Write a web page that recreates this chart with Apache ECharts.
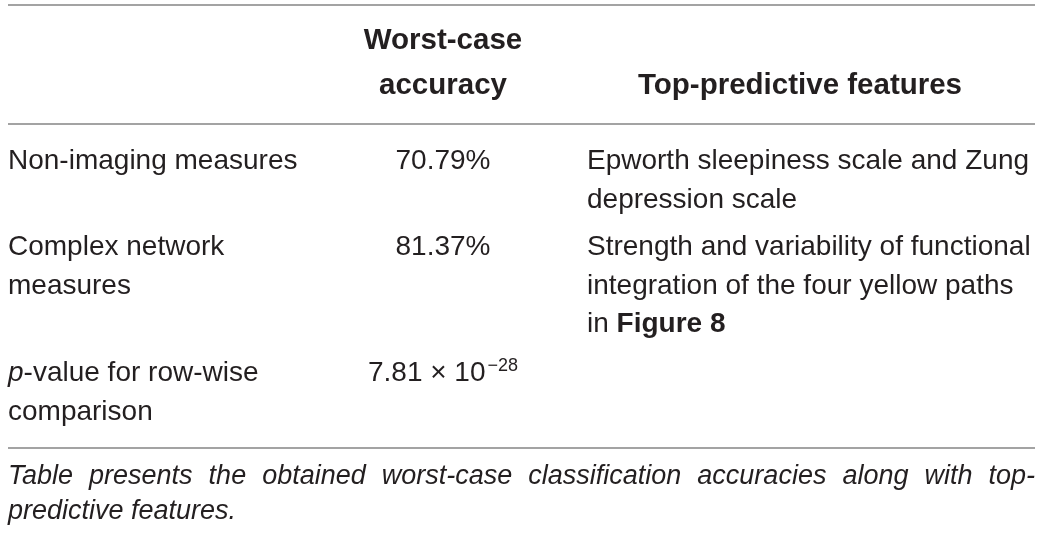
<!DOCTYPE html>
<html>
<head>
<meta charset="utf-8">
<script src="https://cdn.jsdelivr.net/npm/echarts@6/dist/echarts.min.js"></script>
<style>
  html, body { margin: 0; padding: 0; background: #fff; }
  #main { width: 1041px; height: 534px; }
</style>
</head>
<body>
<div id="main"></div>
<script>
// table content
const headerCols = [[], ['Worst-case', 'accuracy'], ['Top-predictive features']];
const measureNames = [
  ['Non-imaging measures'],
  ['Complex network', 'measures'],
  ['{it|p}-value for row-wise', 'comparison']
];
const accuracyValues = ['70.79%', '81.37%', '7.81 × 10{sup|−28}'];
const topFeatures = [
  ['Epworth sleepiness scale and Zung', 'depression scale'],
  ['Strength and variability of functional', 'integration of the four yellow paths', 'in {b|Figure 8}'],
  []
];
const captionLines = [
  'Table presents the obtained worst-case classification accuracies along with top-',
  'predictive features.'
];

// layout (pixels)
const W = 1041, H = 534;
const LEFT = 8, RIGHT = 1035;
const HEAD_X = [8, 443, 800];
const HEAD_BASE = [51, 96];
const COL_X = [8, 443, 587];
const COL_ALIGN = ['left', 'center', 'left'];
const ROW_BASE = [171, 257, 383];
const LINE_STEP = 38.5;
const RULES_Y = [5, 124, 448];
const CAP_BASE = [486, 521];

const FONT = '"Liberation Sans", Arial, Helvetica, sans-serif';
const INK = '#231f20';
const SIZES = { head: 29.5, body: 28, cap: 27 };

const ctx = document.createElement('canvas').getContext('2d');
function wordWidth(s) {
  ctx.font = 'italic ' + SIZES.cap + 'px ' + FONT;
  return ctx.measureText(s).width;
}

const cells = [];
headerCols.forEach((lines, c) => {
  // single-line headers sit on the second header line
  const start = 2 - lines.length;
  lines.forEach((t, k) => cells.push({ x: HEAD_X[c], base: HEAD_BASE[start + k], align: c === 0 ? 'left' : 'center', text: t, kind: 'head' }));
});
[measureNames, accuracyValues.map(v => [v]), topFeatures].forEach((col, c) => {
  col.forEach((lines, r) => {
    lines.forEach((t, k) => cells.push({ x: COL_X[c], base: ROW_BASE[r] + k * LINE_STEP, align: COL_ALIGN[c], text: t, kind: 'body' }));
  });
});
// justified caption: first line spread over full width
{
  const words = captionLines[0].split(' ');
  const total = words.reduce((s, w) => s + wordWidth(w), 0);
  const gap = (RIGHT - LEFT - total) / (words.length - 1);
  let x = LEFT;
  words.forEach(w => {
    cells.push({ x: x, base: CAP_BASE[0], align: 'left', text: w, kind: 'cap' });
    x += wordWidth(w) + gap;
  });
  cells.push({ x: LEFT, base: CAP_BASE[1], align: 'left', text: captionLines[1], kind: 'cap' });
}

function textStyle(kind) {
  const size = SIZES[kind];
  return {
    fontFamily: FONT,
    fontSize: size,
    fontWeight: kind === 'head' ? 'bold' : 'normal',
    fontStyle: kind === 'cap' ? 'italic' : 'normal',
    lineHeight: size + 4
  };
}

const chart = echarts.init(document.getElementById('main'), null, { renderer: 'canvas' });

const option = {
  backgroundColor: '#ffffff',
  animation: false,
  grid: { left: 0, right: 0, top: 0, bottom: 0 },
  xAxis: { type: 'value', min: 0, max: W, show: false },
  yAxis: { type: 'value', min: 0, max: H, inverse: true, show: false },
  series: [
    {
      name: 'rules',
      type: 'custom',
      silent: true,
      data: RULES_Y.map(y => [LEFT, y, RIGHT]),
      renderItem: function (params, api) {
        const a = api.coord([api.value(0), api.value(1)]);
        const b = api.coord([api.value(2), api.value(1)]);
        return {
          type: 'line',
          shape: { x1: a[0], y1: a[1], x2: b[0], y2: b[1] },
          style: { stroke: '#a3a3a3', lineWidth: 1.8 }
        };
      }
    },
    {
      name: 'cells',
      type: 'custom',
      silent: true,
      data: cells.map(c => [c.x, c.base]),
      renderItem: function (params, api) {
        const c = cells[params.dataIndex];
        const p = api.coord([api.value(0), api.value(1)]);
        const st = textStyle(c.kind);
        return {
          type: 'text',
          x: p[0],
          y: p[1] - st.fontSize * 0.34,
          style: Object.assign({}, st, {
            text: c.text,
            fill: INK,
            align: c.align,
            verticalAlign: 'middle',
            rich: {
              it: Object.assign({}, st, { fontStyle: 'italic', fill: INK }),
              b: Object.assign({}, st, { fontWeight: 'bold', fill: INK }),
              sup: { fontFamily: FONT, fontSize: 18, lineHeight: 20, verticalAlign: 'top', padding: [0, 0, 0, 2], fill: INK }
            }
          })
        };
      }
    }
  ]
};

chart.setOption(option);
window.addEventListener('resize', chart.resize);
</script>
</body>
</html>
